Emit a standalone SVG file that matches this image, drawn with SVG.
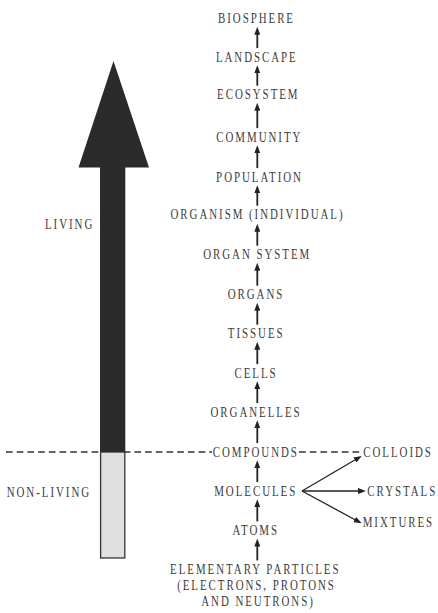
<svg xmlns="http://www.w3.org/2000/svg" width="438" height="613" viewBox="0 0 438 613">
<defs>
<style>
.lbl{font-family:"Liberation Serif","Times New Roman",serif;font-size:14px;letter-spacing:2.5px;fill:#3c3c3c;text-anchor:middle}
.lft{text-anchor:start}
.up{stroke:#222;stroke-width:1.8;fill:none;marker-end:url(#ah)}
.br{stroke:#222;stroke-width:1.3;fill:none;marker-end:url(#ah)}
.dash{stroke:#333;stroke-width:1.3;stroke-dasharray:6.7 4;fill:none}
</style>
<marker id="ah" viewBox="0 0 8 6" refX="1" refY="3" markerWidth="8" markerHeight="6" markerUnits="userSpaceOnUse" orient="auto">
<path d="M0,0 L8,3 L0,6 z" fill="#222"/>
</marker>
</defs>
<rect width="438" height="613" fill="#fff"/>

<g id="divider">
<line class="dash" x1="6" y1="452" x2="212" y2="452"/>
<line class="dash" x1="299" y1="452" x2="361" y2="452"/>
</g>

<g id="big-arrow">
<polygon points="113.5,61 78.5,167.5 100,167.5 100,452 125.3,452 125.3,167.5 149,167.5" fill="#2b2b2b"/>
<rect x="100.6" y="452" width="24.2" height="106" fill="#e0e0e0" stroke="#333" stroke-width="1.3"/>
</g>

<g id="living"><text class="lbl lft" transform="translate(45,228.5) scale(0.78,1)">LIVING</text></g>
<g id="non-living"><text class="lbl lft" transform="translate(6.7,497.3) scale(0.78,1)">NON-LIVING</text></g>

<g id="biosphere"><text class="lbl" transform="translate(256.5,23.3) scale(0.78,1)">BIOSPHERE</text></g>
<g id="landscape"><text class="lbl" transform="translate(256.8,61.7) scale(0.78,1)">LANDSCAPE</text></g>
<g id="ecosystem"><text class="lbl" transform="translate(258.3,99.3) scale(0.78,1)">ECOSYSTEM</text></g>
<g id="community"><text class="lbl" transform="translate(259.3,141.7) scale(0.78,1)">COMMUNITY</text></g>
<g id="population"><text class="lbl" transform="translate(259.5,181.7) scale(0.78,1)">POPULATION</text></g>
<g id="organism"><text class="lbl" transform="translate(257.5,219.3) scale(0.78,1)">ORGANISM (INDIVIDUAL)</text></g>
<g id="organ-system"><text class="lbl" transform="translate(257.2,259.3) scale(0.78,1)">ORGAN SYSTEM</text></g>
<g id="organs"><text class="lbl" transform="translate(256,299.3) scale(0.78,1)">ORGANS</text></g>
<g id="tissues"><text class="lbl" transform="translate(256.2,338.3) scale(0.78,1)">TISSUES</text></g>
<g id="cells"><text class="lbl" transform="translate(256,377.7) scale(0.78,1)">CELLS</text></g>
<g id="organelles"><text class="lbl" transform="translate(256,416.7) scale(0.78,1)">ORGANELLES</text></g>
<g id="compounds"><text class="lbl" transform="translate(255.8,456.7) scale(0.78,1)">COMPOUNDS</text></g>
<g id="molecules"><text class="lbl" transform="translate(255.7,495.7) scale(0.78,1)">MOLECULES</text></g>
<g id="atoms"><text class="lbl" transform="translate(255.7,535) scale(0.78,1)">ATOMS</text></g>
<g id="elementary-particles">
<text class="lbl" transform="translate(255.3,574) scale(0.78,1)">ELEMENTARY PARTICLES</text>
<text class="lbl" transform="translate(256.5,589.5) scale(0.78,1)">(ELECTRONS, PROTONS</text>
<text class="lbl" transform="translate(258,605.5) scale(0.78,1)">AND NEUTRONS)</text>
</g>
<g id="colloids"><text class="lbl lft" transform="translate(363.3,456.7) scale(0.78,1)">COLLOIDS</text></g>
<g id="crystals"><text class="lbl lft" transform="translate(367.3,495.7) scale(0.78,1)">CRYSTALS</text></g>
<g id="mixtures"><text class="lbl lft" transform="translate(362.7,526.7) scale(0.78,1)">MIXTURES</text></g>

<g id="connectors">
<line class="up" x1="257.3" y1="48.1" x2="257.3" y2="33.8"/>
<line class="up" x1="257.3" y1="85.7" x2="257.3" y2="72.2"/>
<line class="up" x1="257.3" y1="128.1" x2="257.3" y2="109.8"/>
<line class="up" x1="257.3" y1="168.1" x2="257.3" y2="152.2"/>
<line class="up" x1="257.3" y1="205.7" x2="257.3" y2="192.2"/>
<line class="up" x1="257.3" y1="245.7" x2="257.3" y2="230.8"/>
<line class="up" x1="257.3" y1="285.7" x2="257.3" y2="269.8"/>
<line class="up" x1="257.3" y1="324.7" x2="257.3" y2="309.8"/>
<line class="up" x1="257.3" y1="364.1" x2="257.3" y2="348.8"/>
<line class="up" x1="257.3" y1="403.1" x2="257.3" y2="388.2"/>
<line class="up" x1="257.3" y1="443.1" x2="257.3" y2="427.2"/>
<line class="up" x1="257.3" y1="482.1" x2="257.3" y2="467.2"/>
<line class="up" x1="257.3" y1="521.4" x2="257.3" y2="506.2"/>
<line class="up" x1="257.3" y1="560.4" x2="257.3" y2="545.5"/>
<line class="br" x1="302" y1="491" x2="355.7" y2="459.5"/>
<line class="br" x1="302" y1="491" x2="359" y2="491"/>
<line class="br" x1="302" y1="491" x2="355.5" y2="520"/>
</g>
</svg>
